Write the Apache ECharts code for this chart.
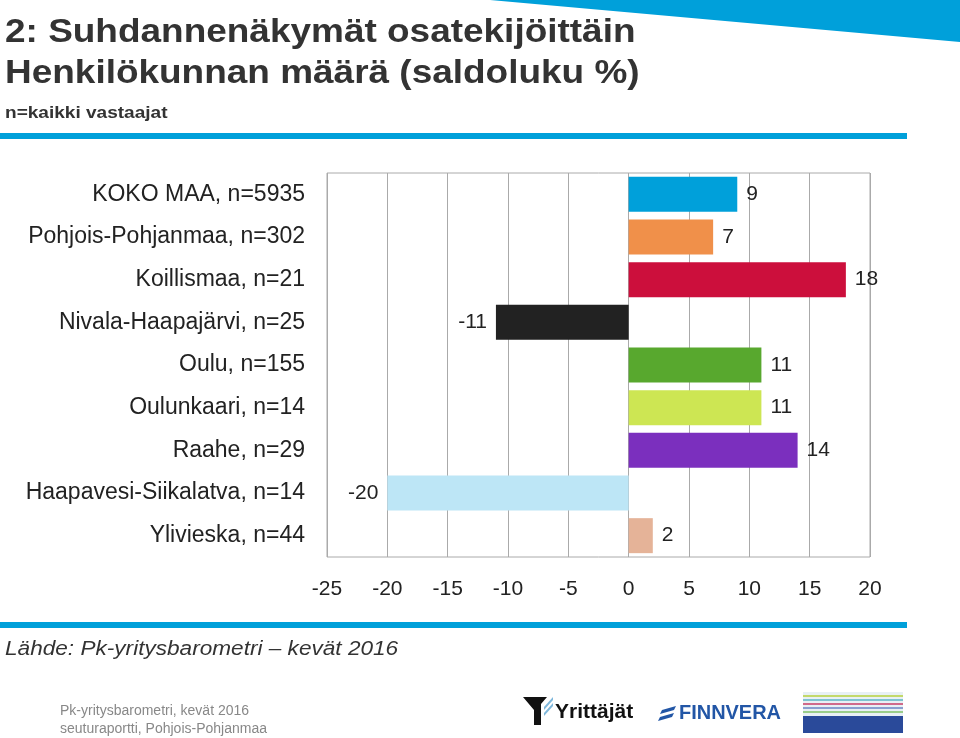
<!DOCTYPE html>
<html><head><meta charset="utf-8">
<script src="https://cdn.jsdelivr.net/npm/echarts@6/dist/echarts.min.js"></script>
<style>html,body{margin:0;padding:0;background:#fff}#c{width:960px;height:738px}</style>
</head><body><div id="c"></div>
<script>
const categories = ["KOKO MAA, n=5935","Pohjois-Pohjanmaa, n=302","Koillismaa, n=21","Nivala-Haapajärvi, n=25","Oulu, n=155","Oulunkaari, n=14","Raahe, n=29","Haapavesi-Siikalatva, n=14","Ylivieska, n=44"];
const values = [9, 7, 18, -11, 11, 11, 14, -20, 2];
const barColors = ["#00A0DA","#F0904A","#CC0F3C","#222222","#58A82E","#CDE653","#7B2FBE","#BDE6F6","#E5B398"];
const xTicks = [-25, -20, -15, -10, -5, 0, 5, 10, 15, 20];

const chart = echarts.init(document.getElementById('c'));
const FONT = '"Liberation Sans", Arial, sans-serif';
chart.setOption({
  animation: false,
  textStyle: {fontFamily: FONT},
  grid: {left: 327, right: 90, top: 173, bottom: 181, show: true, borderColor: '#AAAAAA', borderWidth: 1},
  xAxis: {
    type: 'value', min: xTicks[0], max: xTicks[xTicks.length-1], interval: 5,
    axisLine: {show: false}, axisTick: {show: false},
    splitLine: {show: true, lineStyle: {color: '#AAAAAA', width: 1}},
    axisLabel: {fontSize: 21, color: '#222', margin: 22, fontFamily: FONT}
  },
  yAxis: {
    type: 'category', data: categories, inverse: true,
    axisLine: {show: false}, axisTick: {show: false}, splitLine: {show: false},
    axisLabel: {fontSize: 23, color: '#222', margin: 22, fontFamily: FONT}
  },
  series: [{
    type: 'bar', barWidth: 35,
    data: values.map((v, i) => ({
      value: v,
      itemStyle: {color: barColors[i]},
      label: {show: true, position: v < 0 ? 'left' : 'right', distance: 9, fontSize: 21, color: '#222', fontFamily: FONT}
    }))
  }],
  graphic: [
    {type: 'polygon', shape: {points: [[490,0],[960,0],[960,42]]}, style: {fill: '#00A0DA'}},
    {type: 'text', x: 5, y: 16, scaleX: 1.12, style: {text: '2: Suhdannenäkymät osatekijöittäin', font: 'bold 33px ' + FONT, fill: '#333'}},
    {type: 'text', x: 5, y: 57, scaleX: 1.12, style: {text: 'Henkilökunnan määrä (saldoluku %)', font: 'bold 33px ' + FONT, fill: '#333'}},
    {type: 'text', x: 5, y: 105, scaleX: 1.12, style: {text: 'n=kaikki vastaajat', font: 'bold 17px ' + FONT, fill: '#333'}},
    {type: 'rect', shape: {x: 0, y: 133, width: 907, height: 6}, style: {fill: '#00A0DA'}},
    {type: 'rect', shape: {x: 0, y: 622, width: 907, height: 6}, style: {fill: '#00A0DA'}},
    {type: 'text', x: 5, y: 639, scaleX: 1.13, style: {text: 'Lähde: Pk-yritysbarometri – kevät 2016', font: 'italic 20px ' + FONT, fill: '#333'}},
    {type: 'text', x: 60, y: 704, style: {text: 'Pk-yritysbarometri, kevät 2016', font: '14px ' + FONT, fill: '#888'}},
    {type: 'text', x: 60, y: 722, style: {text: 'seuturaportti, Pohjois-Pohjanmaa', font: '14px ' + FONT, fill: '#888'}},
    {type: 'polygon', shape: {points: [[523,697],[547,697],[541,704],[541,725],[534,725],[534,710]]}, style: {fill: '#111'}},
    {type: 'polygon', shape: {points: [[544,707],[553,697],[553,700],[544,710]]}, style: {fill: '#7FB8DC'}},
    {type: 'polygon', shape: {points: [[544,713],[553,703],[553,706],[544,716]]}, style: {fill: '#7FB8DC'}},
    {type: 'text', x: 555, y: 702, style: {text: 'Yrittäjät', font: 'bold 21px ' + FONT, fill: '#111'}},
    {type: 'polygon', shape: {points: [[662,710],[676,706],[674,710],[660,714]]}, style: {fill: '#2256A6'}},
    {type: 'polygon', shape: {points: [[660,717],[674,713],[672,717],[658,721]]}, style: {fill: '#2256A6'}},
    {type: 'text', x: 679, y: 703, scaleX: 0.95, style: {text: 'FINNVERA', font: 'bold 21px ' + FONT, fill: '#2256A6'}},
    {type: 'rect', shape: {x: 803, y: 692, width: 100, height: 41}, style: {fill: '#E8F0F4'}},
    {type: 'rect', shape: {x: 803, y: 695, width: 100, height: 2}, style: {fill: '#C3D96A'}},
    {type: 'rect', shape: {x: 803, y: 699, width: 100, height: 2}, style: {fill: '#7FC4D0'}},
    {type: 'rect', shape: {x: 803, y: 703, width: 100, height: 2}, style: {fill: '#D06A8A'}},
    {type: 'rect', shape: {x: 803, y: 707, width: 100, height: 2}, style: {fill: '#8AA0D0'}},
    {type: 'rect', shape: {x: 803, y: 711, width: 100, height: 2}, style: {fill: '#9ACD8A'}},
    {type: 'rect', shape: {x: 803, y: 716, width: 100, height: 17}, style: {fill: '#2A4A9A'}}
  ]
});
</script></body></html>
